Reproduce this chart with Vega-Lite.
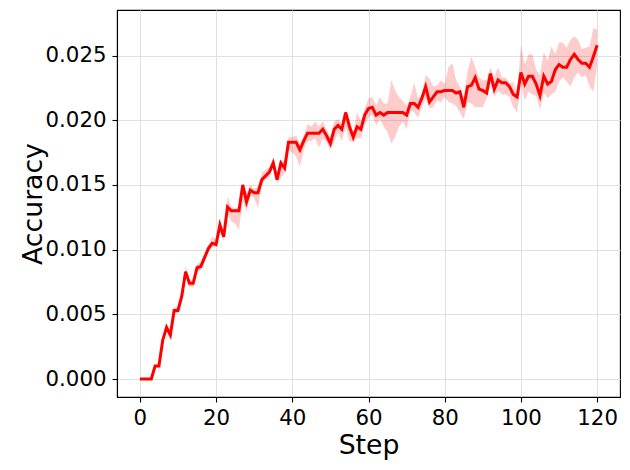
{
  "$schema": "https://vega.github.io/schema/vega-lite/v6.json",
  "width": 503,
  "height": 387,
  "autosize": "none",
  "padding": {"left": 117, "top": 10, "right": 10, "bottom": 73},
  "background": "white",
  "config": {
    "view": {"stroke": "black", "strokeWidth": 1.1},
    "axis": {
      "labelFont": "DejaVu Sans",
      "titleFont": "DejaVu Sans",
      "labelFontSize": 21.3,
      "titleFontSize": 26.7,
      "titleFontWeight": "normal",
      "labelColor": "black",
      "titleColor": "black",
      "domainColor": "black",
      "domainWidth": 1.1,
      "tickColor": "black",
      "tickSize": 5,
      "tickWidth": 1.1,
      "gridColor": "#e0e0e0",
      "gridWidth": 1
    }
  },
  "data": {
    "values": [
      {"step":0,"acc":0,"lo":0,"hi":0},
      {"step":1,"acc":0,"lo":0,"hi":0},
      {"step":2,"acc":0,"lo":0,"hi":0},
      {"step":3,"acc":0,"lo":0,"hi":0},
      {"step":4,"acc":0.001,"lo":0.001,"hi":0.001},
      {"step":5,"acc":0.001,"lo":0.001,"hi":0.001},
      {"step":6,"acc":0.003,"lo":0.0028,"hi":0.0032},
      {"step":7,"acc":0.004,"lo":0.0037,"hi":0.0042},
      {"step":8,"acc":0.0034,"lo":0.0031,"hi":0.0037},
      {"step":9,"acc":0.0053,"lo":0.0051,"hi":0.0055},
      {"step":10,"acc":0.0053,"lo":0.0051,"hi":0.0056},
      {"step":11,"acc":0.0064,"lo":0.0062,"hi":0.0066},
      {"step":12,"acc":0.0083,"lo":0.0080,"hi":0.0087},
      {"step":13,"acc":0.0074,"lo":0.0071,"hi":0.0077},
      {"step":14,"acc":0.0074,"lo":0.0071,"hi":0.0077},
      {"step":15,"acc":0.0086,"lo":0.0083,"hi":0.0089},
      {"step":16,"acc":0.0087,"lo":0.0084,"hi":0.0090},
      {"step":17,"acc":0.0094,"lo":0.0091,"hi":0.0097},
      {"step":18,"acc":0.0101,"lo":0.0098,"hi":0.0104},
      {"step":19,"acc":0.0105,"lo":0.0102,"hi":0.0110},
      {"step":20,"acc":0.0104,"lo":0.0102,"hi":0.0108},
      {"step":21,"acc":0.0119,"lo":0.0114,"hi":0.0124},
      {"step":22,"acc":0.0110,"lo":0.0107,"hi":0.0113},
      {"step":23,"acc":0.0133,"lo":0.0128,"hi":0.0141},
      {"step":24,"acc":0.0130,"lo":0.0122,"hi":0.0133},
      {"step":25,"acc":0.0130,"lo":0.0120,"hi":0.0132},
      {"step":26,"acc":0.0130,"lo":0.0115,"hi":0.0133},
      {"step":27,"acc":0.0150,"lo":0.0138,"hi":0.0151},
      {"step":28,"acc":0.0137,"lo":0.0129,"hi":0.0144},
      {"step":29,"acc":0.0146,"lo":0.0142,"hi":0.0150},
      {"step":30,"acc":0.0144,"lo":0.0140,"hi":0.0147},
      {"step":31,"acc":0.0144,"lo":0.0132,"hi":0.0149},
      {"step":32,"acc":0.0154,"lo":0.0151,"hi":0.0159},
      {"step":33,"acc":0.0157,"lo":0.0154,"hi":0.0162},
      {"step":34,"acc":0.0160,"lo":0.0156,"hi":0.0164},
      {"step":35,"acc":0.0167,"lo":0.0164,"hi":0.0171},
      {"step":36,"acc":0.0154,"lo":0.0151,"hi":0.0159},
      {"step":37,"acc":0.0167,"lo":0.0156,"hi":0.0169},
      {"step":38,"acc":0.0163,"lo":0.0159,"hi":0.0169},
      {"step":39,"acc":0.0183,"lo":0.0177,"hi":0.0187},
      {"step":40,"acc":0.0183,"lo":0.0175,"hi":0.0187},
      {"step":41,"acc":0.0183,"lo":0.0172,"hi":0.0188},
      {"step":42,"acc":0.0177,"lo":0.0164,"hi":0.0182},
      {"step":43,"acc":0.0184,"lo":0.0177,"hi":0.0188},
      {"step":44,"acc":0.0190,"lo":0.0184,"hi":0.0197},
      {"step":45,"acc":0.0190,"lo":0.0184,"hi":0.0195},
      {"step":46,"acc":0.0190,"lo":0.0186,"hi":0.0199},
      {"step":47,"acc":0.0190,"lo":0.0179,"hi":0.0195},
      {"step":48,"acc":0.0193,"lo":0.0186,"hi":0.0199},
      {"step":49,"acc":0.0188,"lo":0.0183,"hi":0.0193},
      {"step":50,"acc":0.0182,"lo":0.0177,"hi":0.0187},
      {"step":51,"acc":0.0193,"lo":0.0184,"hi":0.0199},
      {"step":52,"acc":0.0196,"lo":0.0190,"hi":0.0201},
      {"step":53,"acc":0.0193,"lo":0.0184,"hi":0.0197},
      {"step":54,"acc":0.0206,"lo":0.0195,"hi":0.0208},
      {"step":55,"acc":0.0195,"lo":0.0184,"hi":0.0201},
      {"step":56,"acc":0.0187,"lo":0.0183,"hi":0.0191},
      {"step":57,"acc":0.0195,"lo":0.0186,"hi":0.0206},
      {"step":58,"acc":0.0193,"lo":0.0186,"hi":0.0199},
      {"step":59,"acc":0.0204,"lo":0.0196,"hi":0.0209},
      {"step":60,"acc":0.0209,"lo":0.0202,"hi":0.0217},
      {"step":61,"acc":0.0210,"lo":0.0204,"hi":0.0218},
      {"step":62,"acc":0.0204,"lo":0.0196,"hi":0.0211},
      {"step":63,"acc":0.0206,"lo":0.0201,"hi":0.0218},
      {"step":64,"acc":0.0204,"lo":0.0195,"hi":0.0213},
      {"step":65,"acc":0.0206,"lo":0.0191,"hi":0.0213},
      {"step":66,"acc":0.0206,"lo":0.0182,"hi":0.0231},
      {"step":67,"acc":0.0206,"lo":0.0187,"hi":0.0223},
      {"step":68,"acc":0.0206,"lo":0.0195,"hi":0.0218},
      {"step":69,"acc":0.0206,"lo":0.0199,"hi":0.0215},
      {"step":70,"acc":0.0204,"lo":0.0193,"hi":0.0211},
      {"step":71,"acc":0.0213,"lo":0.0208,"hi":0.0218},
      {"step":72,"acc":0.0213,"lo":0.0206,"hi":0.0229},
      {"step":73,"acc":0.0210,"lo":0.0202,"hi":0.0217},
      {"step":74,"acc":0.0217,"lo":0.0210,"hi":0.0220},
      {"step":75,"acc":0.0226,"lo":0.0217,"hi":0.0235},
      {"step":76,"acc":0.0214,"lo":0.0209,"hi":0.0232},
      {"step":77,"acc":0.0218,"lo":0.0210,"hi":0.0226},
      {"step":78,"acc":0.0222,"lo":0.0215,"hi":0.0227},
      {"step":79,"acc":0.0222,"lo":0.0214,"hi":0.0231},
      {"step":80,"acc":0.0223,"lo":0.0218,"hi":0.0228},
      {"step":81,"acc":0.0223,"lo":0.0214,"hi":0.0241},
      {"step":82,"acc":0.0223,"lo":0.0213,"hi":0.0244},
      {"step":83,"acc":0.0221,"lo":0.0211,"hi":0.0231},
      {"step":84,"acc":0.0222,"lo":0.0206,"hi":0.0226},
      {"step":85,"acc":0.0210,"lo":0.0201,"hi":0.0218},
      {"step":86,"acc":0.0226,"lo":0.0214,"hi":0.0238},
      {"step":87,"acc":0.0227,"lo":0.0213,"hi":0.0249},
      {"step":88,"acc":0.0233,"lo":0.0210,"hi":0.0241},
      {"step":89,"acc":0.0224,"lo":0.0210,"hi":0.0233},
      {"step":90,"acc":0.0223,"lo":0.0210,"hi":0.0231},
      {"step":91,"acc":0.0221,"lo":0.0217,"hi":0.0231},
      {"step":92,"acc":0.0236,"lo":0.0229,"hi":0.0241},
      {"step":93,"acc":0.0224,"lo":0.0218,"hi":0.0233},
      {"step":94,"acc":0.0231,"lo":0.0223,"hi":0.0241},
      {"step":95,"acc":0.0229,"lo":0.0220,"hi":0.0233},
      {"step":96,"acc":0.0229,"lo":0.0220,"hi":0.0233},
      {"step":97,"acc":0.0226,"lo":0.0218,"hi":0.0229},
      {"step":98,"acc":0.0220,"lo":0.0210,"hi":0.0229},
      {"step":99,"acc":0.0218,"lo":0.0206,"hi":0.0220},
      {"step":100,"acc":0.0237,"lo":0.0228,"hi":0.0258},
      {"step":101,"acc":0.0228,"lo":0.0215,"hi":0.0243},
      {"step":102,"acc":0.0234,"lo":0.0222,"hi":0.0251},
      {"step":103,"acc":0.0234,"lo":0.0220,"hi":0.0251},
      {"step":104,"acc":0.0228,"lo":0.0219,"hi":0.0239},
      {"step":105,"acc":0.0219,"lo":0.0208,"hi":0.0235},
      {"step":106,"acc":0.0234,"lo":0.0221,"hi":0.0253},
      {"step":107,"acc":0.0228,"lo":0.0217,"hi":0.0246},
      {"step":108,"acc":0.0230,"lo":0.0220,"hi":0.0257},
      {"step":109,"acc":0.0239,"lo":0.0222,"hi":0.0251},
      {"step":110,"acc":0.0243,"lo":0.0230,"hi":0.0260},
      {"step":111,"acc":0.0241,"lo":0.0233,"hi":0.0260},
      {"step":112,"acc":0.0241,"lo":0.0230,"hi":0.0256},
      {"step":113,"acc":0.0247,"lo":0.0226,"hi":0.0262},
      {"step":114,"acc":0.0251,"lo":0.0233,"hi":0.0265},
      {"step":115,"acc":0.0247,"lo":0.0237,"hi":0.0262},
      {"step":116,"acc":0.0244,"lo":0.0233,"hi":0.0255},
      {"step":117,"acc":0.0244,"lo":0.0235,"hi":0.0256},
      {"step":118,"acc":0.0241,"lo":0.0226,"hi":0.0257},
      {"step":119,"acc":0.0249,"lo":0.0222,"hi":0.0271},
      {"step":120,"acc":0.0258,"lo":0.0243,"hi":0.0270}
    ]
  },
  "encoding": {
    "x": {
      "field": "step",
      "type": "quantitative",
      "scale": {"domain": [-6, 126], "nice": false, "zero": false},
      "axis": {"title": "Step", "values": [0, 20, 40, 60, 80, 100, 120], "labelPadding": 5, "titlePadding": 4, "labelFlush": false}
    }
  },
  "layer": [
    {
      "mark": {"type": "area", "color": "#ff0000", "opacity": 0.2},
      "encoding": {
        "y": {
          "field": "lo",
          "type": "quantitative",
          "scale": {"domain": [-0.00139, 0.02852], "nice": false, "zero": false},
          "axis": {"title": "Accuracy", "values": [0, 0.005, 0.01, 0.015, 0.02, 0.025], "format": ".3f", "labelPadding": 6, "titlePadding": -2, "labelFlush": false}
        },
        "y2": {"field": "hi"}
      }
    },
    {
      "mark": {"type": "line", "color": "#ff0000", "strokeWidth": 3},
      "encoding": {
        "y": {"field": "acc", "type": "quantitative"}
      }
    }
  ]
}
